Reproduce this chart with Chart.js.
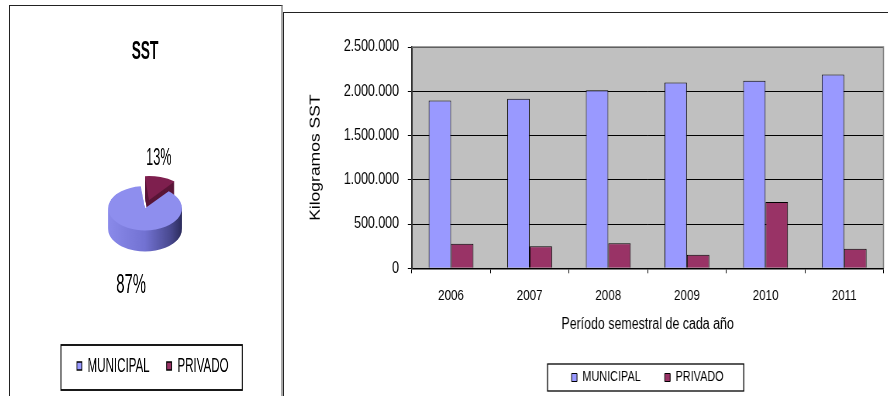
<!DOCTYPE html>
<html>
<head>
<meta charset="utf-8">
<script src="https://cdn.jsdelivr.net/npm/chart.js@4.4.0/dist/chart.umd.min.js"></script>
<style>
html, body { margin: 0; padding: 0; background: #fff; width: 888px; height: 396px; overflow: hidden; }
.frame { position: absolute; box-sizing: border-box; }
#leftFrame { left: 9px; top: 5px; width: 274px; height: 400px; border-left: 1px solid #222; border-top: 1px solid #222; border-right: 2px solid #a8a8a8; }
#rightFrame { left: 283px; top: 12px; width: 620px; height: 400px; border-left: 1px solid #222; border-top: 1px solid #222; }
.wrap { position: absolute; transform-origin: 0 0; }
#pieWrap { left: 10px; top: 7px; transform: scaleX(0.55); }
#barWrap { left: 284px; top: 13px; transform: scaleX(0.775); }
</style>
</head>
<body>
<div class="frame" id="leftFrame"></div>
<div class="frame" id="rightFrame"></div>
<div class="wrap" id="pieWrap"><canvas id="pieChart" width="491" height="389"></canvas></div>
<div class="wrap" id="barWrap"><canvas id="barChart" width="779" height="383"></canvas></div>
<script>
// data
const years = ['2006', '2007', '2008', '2009', '2010', '2011'];
const municipal = [1895000, 1915000, 2010000, 2100000, 2120000, 2190000];
const privado = [278000, 249000, 283000, 154000, 750000, 222000];
const yMax = 2500000;
const yStep = 500000;

const pieLabels = ['MUNICIPAL', 'PRIVADO'];
const piePct = [87, 13];

Chart.defaults.font.family = "'Liberation Sans', Arial, sans-serif";
Chart.defaults.color = '#000';

// box drawn round the legend items
const legendBox = {
    id: 'legendBox',
    afterDraw(chart, args, opts) {
        const hb = chart.legend.legendHitBoxes;
        if (!hb || !hb.length) return;
        const left = Math.min(...hb.map(h => h.left)) - opts.padL;
        const right = Math.max(...hb.map(h => h.left + h.width)) + opts.padR;
        const cy = hb[0].top + hb[0].height / 2;
        const ctx = chart.ctx;
        ctx.save();
        ctx.strokeStyle = '#000';
        ctx.lineWidth = opts.lineWidth;
        ctx.strokeRect(left, cy - opts.up, right - left, opts.up + opts.down);
        ctx.restore();
    }
};

// ---------- pie (3d look) ----------
const DEPTH = 21;
const SQUASH = 0.33;

const pie3d = {
    id: 'pie3d',
    beforeDatasetsDraw(chart) {
        const ctx = chart.ctx;
        const arcs = chart.getDatasetMeta(0).data;
        const cx = arcs[0].x, cy = arcs[0].y, r = arcs[0].outerRadius;
        const g = ctx.createLinearGradient(cx - r, 0, cx + r, 0);
        g.addColorStop(0, '#8A8AEA');
        g.addColorStop(0.5, '#7272D2');
        g.addColorStop(0.85, '#48488E');
        g.addColorStop(1, '#2C2C5C');
        const sides = [g, '#5A1638'];
        for (let d = DEPTH; d > 0; d--) {
            arcs.forEach((arc, i) => {
                const fake = Object.create(arc);
                fake.options = Object.assign({}, arc.options, { backgroundColor: sides[i], borderWidth: 0 });
                ctx.save();
                ctx.translate(cx, cy + d);
                ctx.scale(1, SQUASH);
                ctx.translate(-cx, -cy);
                arc.draw.call(fake, ctx);
                ctx.restore();
            });
        }
        ctx.save();
        ctx.translate(cx, cy);
        ctx.scale(1, SQUASH);
        ctx.translate(-cx, -cy);
    },
    afterDatasetsDraw(chart) {
        chart.ctx.restore();
    },
    afterDraw(chart) {
        const ctx = chart.ctx;
        const arcs = chart.getDatasetMeta(0).data;
        const vals = chart.data.datasets[0].data;
        const total = vals.reduce((a, b) => a + b, 0);
        ctx.save();
        ctx.fillStyle = '#000';
        ctx.textAlign = 'center';
        ctx.textBaseline = 'middle';
        arcs.forEach((arc, i) => {
            const mid = (arc.startAngle + arc.endAngle) / 2;
            const below = Math.sin(mid) > 0;
            const x = arc.x + Math.cos(mid) * 88;
            const y = arc.y + Math.sin(mid) * 52 + (below ? DEPTH + 6 : 0);
            ctx.font = (below ? 27 : 23) + "px 'Liberation Sans', Arial, sans-serif";
            ctx.fillText(Math.round(vals[i] / total * 100) + '%', x, y);
        });
        ctx.restore();
    },
    afterLayout(chart) {
        // legend sits a bit right of the pie in the original
        chart.legend.left += 14;
        chart.legend.right += 14;
    }
};

const pieLegendColors = ['#9999FF', '#993366'];

new Chart(document.getElementById('pieChart'), {
    type: 'pie',
    data: {
        labels: pieLabels,
        datasets: [{
            data: piePct,
            backgroundColor: ['#8E8EEE', '#7E1F4E'],
            borderWidth: 0,
            offset: [0, 100]
        }]
    },
    options: {
        responsive: false,
        animation: false,
        rotation: 40,
        radius: 67,
        layout: { padding: { left: 0, right: 0, top: 0, bottom: 9.5 } },
        plugins: {
            title: {
                display: true,
                text: 'SST',
                color: '#000',
                font: { size: 25, weight: 'bold' },
                padding: { top: 30, bottom: 25 }
            },
            legend: {
                position: 'bottom',
                labels: {
                    font: { size: 21 },
                    boxWidth: 9,
                    boxHeight: 8,
                    padding: 31,
                    generateLabels(chart) {
                        const items = Chart.overrides.doughnut.plugins.legend.labels.generateLabels(chart);
                        items.forEach((it, i) => {
                            it.fillStyle = pieLegendColors[i];
                            it.strokeStyle = '#000';
                            it.lineWidth = 1.5;
                        });
                        return items;
                    }
                }
            },
            tooltip: { enabled: false },
            legendBox: { padL: 29, padR: 25, up: 21, down: 24, lineWidth: 1.8 }
        }
    },
    plugins: [pie3d, legendBox]
});

// ---------- bars ----------
const plotArea = {
    id: 'plotArea',
    beforeDraw(chart) {
        const { ctx, chartArea: a } = chart;
        ctx.save();
        ctx.fillStyle = '#C0C0C0';
        ctx.fillRect(a.left, a.top, a.width, a.height);
        ctx.restore();
    },
    beforeDatasetsDraw(chart) {
        const { ctx, chartArea: a } = chart;
        ctx.save();
        ctx.strokeStyle = '#808080';
        ctx.lineWidth = 1.5;
        ctx.beginPath();
        ctx.moveTo(a.left, a.top);
        ctx.lineTo(a.right, a.top);
        ctx.lineTo(a.right, a.bottom);
        ctx.stroke();
        ctx.restore();
    }
};

new Chart(document.getElementById('barChart'), {
    type: 'bar',
    data: {
        labels: years,
        datasets: [{
            label: 'MUNICIPAL',
            data: municipal,
            backgroundColor: '#9999FF',
            borderColor: '#000',
            borderWidth: 1
        }, {
            label: 'PRIVADO',
            data: privado,
            backgroundColor: '#993366',
            borderColor: '#000',
            borderWidth: 1
        }]
    },
    options: {
        responsive: false,
        animation: false,
        layout: { padding: { left: 0, right: 5.5, top: 34, bottom: 1.5 } },
        datasets: { bar: { categoryPercentage: 0.57, barPercentage: 1.0 } },
        scales: {
            x: {
                grid: { drawOnChartArea: false, color: '#000', tickLength: 5 },
                border: { color: '#000', width: 1.5 },
                ticks: { font: { size: 15 }, padding: 13.5, color: '#000' },
                title: {
                    display: true,
                    text: 'Período semestral de cada año',
                    font: { size: 16 },
                    padding: { top: 0, bottom: 5 }
                },
                afterFit(scale) { scale.height = 71.2; }
            },
            y: {
                min: 0,
                max: yMax,
                grid: { color: '#000', lineWidth: 1, tickLength: 5 },
                border: { color: '#333', width: 2 },
                ticks: {
                    stepSize: yStep,
                    font: { size: 16 },
                    padding: 11.4,
                    color: '#000',
                    callback: v => v.toLocaleString('de-DE')
                },
                title: {
                    display: true,
                    text: 'Kilogramos SST',
                    font: { size: 17.5 },
                    padding: { top: 30.7, bottom: 0 }
                },
                afterFit(scale) { scale.width = 164.8; }
            }
        },
        plugins: {
            legend: {
                position: 'bottom',
                fullSize: false,
                labels: { font: { size: 14 }, boxWidth: 7, boxHeight: 8, padding: 31 }
            },
            tooltip: { enabled: false },
            legendBox: { padL: 31, padR: 26, up: 13.5, down: 13.5, lineWidth: 1.3 }
        }
    },
    plugins: [plotArea, legendBox]
});
</script>
</body>
</html>
